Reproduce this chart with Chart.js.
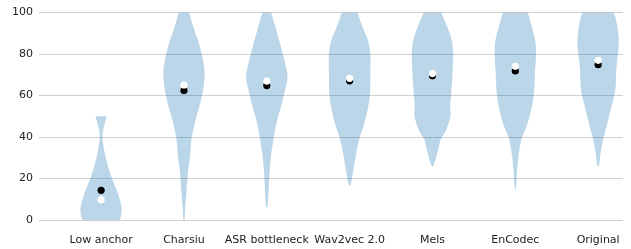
<!DOCTYPE html>
<html>
<head>
<meta charset="utf-8">
<script src="https://cdn.jsdelivr.net/npm/chart.js@4"></script>
<style>
  html, body { margin: 0; padding: 0; background: #fff; }
  #wrap { width: 631px; height: 249px; }
</style>
</head>
<body>
<div id="wrap"><canvas id="violinChart" width="631" height="249"></canvas></div>
<script>
const categories = ['Low anchor', 'Charsiu', 'ASR bottleneck', 'Wav2vec 2.0', 'Mels', 'EnCodec', 'Original'];
const means = [14.3, 62.4, 64.8, 67.1, 69.5, 71.9, 74.9];
const medians = [9.8, 65.1, 67.0, 68.3, 70.6, 74.1, 77.0];

// score levels and density (bottom to top)
const densityLevels = [
    [0, 2, 5, 9, 13.5, 18, 23, 27, 31, 35, 39.7, 43, 46, 50],
    [0, 7.1, 15.1, 23, 31, 38.9, 46.8, 54.8, 62.7, 70.6, 77, 84.9, 92.9, 100],
    [6.3, 15.1, 23, 31, 38.9, 46.8, 54.8, 62.7, 69, 77, 84.9, 92.9, 100],
    [16.7, 23, 31, 38.9, 46.8, 54.8, 61.1, 70.6, 80.2, 86.5, 92.9, 100],
    [25.9, 32.5, 38.9, 42.9, 50, 54.8, 61.1, 70.6, 80.2, 86.5, 92.9, 100],
    [14.8, 23, 31, 38.9, 46.8, 54.8, 61.1, 70.6, 80.2, 86.5, 92.9, 100],
    [26, 32.5, 38.9, 46.8, 54.8, 62.7, 70.6, 77, 84.9, 92.9, 100]
];
const densityValues = [
    [17.5, 19, 19.8, 18.3, 15.5, 12, 8.3, 6, 4, 2.5, 1.3, 1.8, 3.2, 5.3],
    [0.5, 1.5, 2.8, 4, 6.2, 7.5, 10.8, 15.5, 19.2, 20.8, 19.2, 15.2, 9.5, 5.2],
    [0.8, 1.8, 2.8, 4.2, 6.7, 9.7, 14.3, 18.3, 20.7, 17.7, 13.3, 8.7, 4.3],
    [0.8, 3.3, 6, 9.3, 14.5, 18.3, 20, 20.3, 20.3, 18, 12.8, 7.7],
    [0.8, 5, 8.3, 13.3, 18, 17.7, 18.7, 20, 20.7, 19.3, 15, 8.7],
    [0.5, 1.7, 3.3, 6.2, 12.5, 16.7, 18.7, 19.7, 20.8, 20, 16.7, 12.5],
    [0.8, 2.5, 5, 9.2, 13.3, 17, 17.8, 18.8, 20.5, 19.2, 15.8]
];

const halfWidth = 0.25;

// outline: down the right side from the top, then back up the left side,
// so the straight closing edge is the flat top of the violin
function violinOutline(i) {
    const pos = i + 1;
    const levels = densityLevels[i];
    const dens = densityValues[i];
    const maxD = Math.max(...dens);
    const right = levels.map((y, k) => ({ x: pos + dens[k] / maxD * halfWidth, y: y })).reverse();
    const left = levels.map((y, k) => ({ x: pos - dens[k] / maxD * halfWidth, y: y }));
    return right.concat(left);
}

const violinDatasets = categories.map((c, i) => ({
    label: c,
    data: violinOutline(i),
    showLine: true,
    fill: 'shape',
    backgroundColor: 'rgba(31, 119, 180, 0.3)',
    borderWidth: 0,
    borderColor: 'rgba(0,0,0,0)',
    pointRadius: 0,
    tension: 0.3,
    order: 2
}));

const medianData = {
    label: 'median',
    data: medians.map((v, i) => ({ x: i + 1, y: v })),
    showLine: false,
    pointRadius: 3.6,
    pointBorderWidth: 0,
    pointBackgroundColor: '#ffffff',
    order: 0
};

const meanData = {
    label: 'mean',
    data: means.map((v, i) => ({ x: i + 1, y: v })),
    showLine: false,
    pointRadius: 3.6,
    pointBorderWidth: 0,
    pointBackgroundColor: '#000000',
    order: 1
};

const violinConfig = {
    type: 'line',
    data: { datasets: [medianData, meanData].concat(violinDatasets) },
    options: {
        responsive: false,
        animation: false,
        layout: { padding: { top: 9, right: 8, left: 0, bottom: 0 } },
        plugins: { legend: { display: false }, tooltip: { enabled: false } },
        scales: {
            x: {
                type: 'linear',
                min: 0.25,
                max: 7.3,
                grid: { display: false },
                border: { display: false },
                afterBuildTicks: s => { s.ticks = categories.map((c, i) => ({ value: i + 1 })); },
                afterFit: s => { s.height = 29; },
                ticks: {
                    callback: v => categories[v - 1],
                    autoSkip: false,
                    maxRotation: 0,
                    padding: 6,
                    color: '#222',
                    font: { family: 'DejaVu Sans', size: 11 }
                }
            },
            y: {
                min: 0,
                max: 100,
                grid: { color: '#d0d0d0', lineWidth: 1, drawTicks: false },
                border: { display: false },
                afterFit: s => { s.width = 39; },
                ticks: {
                    stepSize: 20,
                    padding: 6,
                    color: '#222',
                    font: { family: 'DejaVu Sans', size: 11 }
                }
            }
        }
    }
};

const violinChart = new Chart(
    document.getElementById('violinChart'),
    violinConfig
);
</script>
</body>
</html>
